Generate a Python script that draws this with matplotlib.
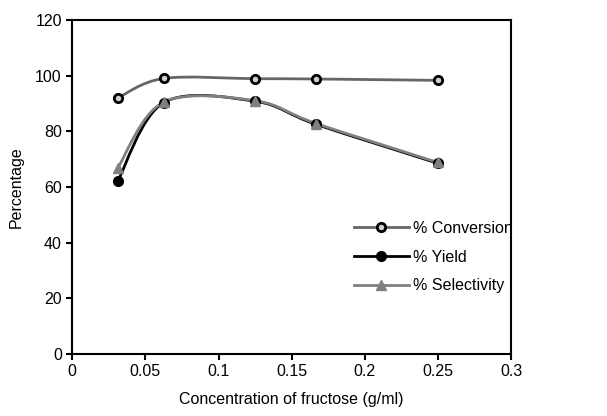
"""Conversion, yield and selectivity against fructose concentration."""

import matplotlib.pyplot as plt
import numpy as np
from matplotlib.path import Path
from matplotlib.patches import PathPatch

plt.rcParams["font.family"] = ["Liberation Sans", "DejaVu Sans"]

concentration = [0.03125, 0.0625, 0.125, 0.1667, 0.25]
conversion = [92.0, 99.0, 98.9, 98.8, 98.3]
yield_pct = [62.3, 90.3, 90.8, 82.5, 68.5]
selectivity = [67.0, 90.5, 91.0, 82.8, 68.8]


def smooth_path(xs, ys, tension=1 / 6):
    """Excel-style smoothed line as cubic Bezier segments."""
    pts = np.column_stack([xs, ys])
    n = len(pts)
    verts = [pts[0]]
    codes = [Path.MOVETO]
    for i in range(n - 1):
        p0 = pts[i - 1] if i > 0 else pts[i]
        p1, p2 = pts[i], pts[i + 1]
        p3 = pts[i + 2] if i + 2 < n else pts[i + 1]
        c1 = p1 + (p2 - p0) * tension
        c2 = p2 - (p3 - p1) * tension
        verts += [c1, c2, p2]
        codes += [Path.CURVE4] * 3
    return Path(verts, codes)


fig = plt.figure(figsize=(6.07, 4.16), dpi=100)
ax = fig.add_axes([0.119, 0.149, 0.723, 0.803])

series = [
    (conversion, "% Conversion", "#666666", "o", "#d0d0d0", "black", 6, 2),
    (yield_pct, "% Yield", "black", "o", "black", "black", 7, 1),
    (selectivity, "% Selectivity", "#808080", "^", "#808080", "#808080", 7, 1),
]

for values, label, color, marker, face, edge, size, mew in series:
    ax.add_patch(PathPatch(smooth_path(concentration, values), fill=False,
                           edgecolor=color, lw=2, zorder=2))
    ax.plot(concentration, values, linestyle="none", marker=marker,
            markersize=size, markerfacecolor=face, markeredgecolor=edge,
            markeredgewidth=mew, zorder=3)
    ax.plot([], [], color=color, lw=2, marker=marker, markersize=size,
            markerfacecolor=face, markeredgecolor=edge,
            markeredgewidth=mew, label=label)

ax.set_xlim(0, 0.3)
ax.set_ylim(0, 120)
ax.set_xticks([0, 0.05, 0.1, 0.15, 0.2, 0.25, 0.3])
ax.set_xticklabels(["0", "0.05", "0.1", "0.15", "0.2", "0.25", "0.3"])
ax.set_yticks(range(0, 121, 20))
ax.tick_params(direction="out", length=4, width=1.5, labelsize=11.5,
               colors="black")
for spine in ax.spines.values():
    spine.set_linewidth(1.5)
ax.set_xlabel("Concentration of fructose (g/ml)", fontsize=11.5, labelpad=9)
ax.set_ylabel("Percentage", fontsize=11.5, labelpad=8)

ax.legend(loc="center left", bbox_to_anchor=(0.61, 0.29), frameon=False,
          fontsize=11.5, handlelength=3.4, labelspacing=0.85,
          handletextpad=0.3)

fig.savefig("out.png", dpi=100)
